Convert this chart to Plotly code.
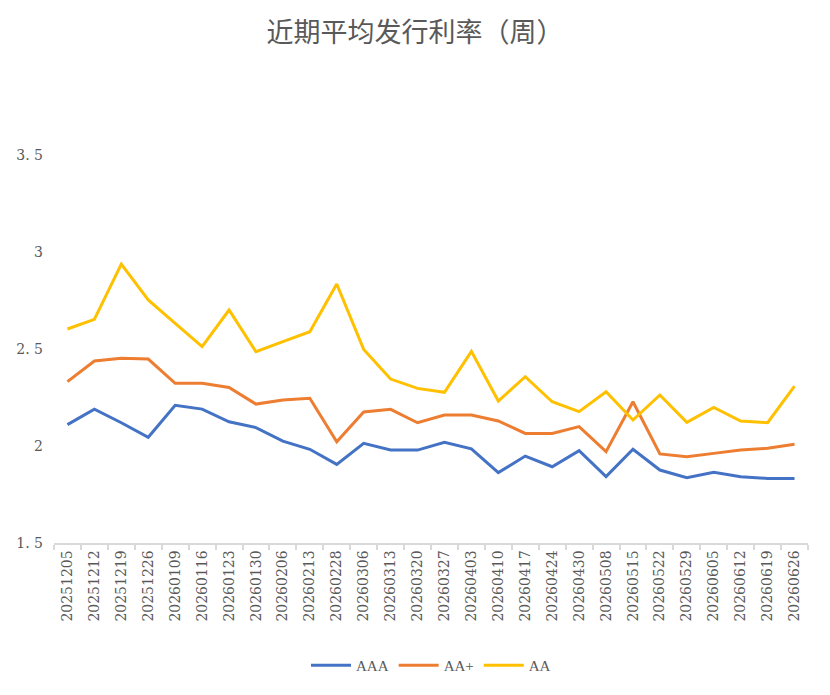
import plotly.graph_objects as go

dates = ["20251205", "20251212", "20251219", "20251226", "20260109", "20260116", "20260123",
         "20260130", "20260206", "20260213", "20260228", "20260306", "20260313", "20260320",
         "20260327", "20260403", "20260410", "20260417", "20260424", "20260430", "20260508",
         "20260515", "20260522", "20260529", "20260605", "20260612", "20260619", "20260626"]

aaa = [2.11, 2.19, 2.12, 2.045, 2.21, 2.19, 2.125, 2.095, 2.025, 1.983, 1.905, 2.014, 1.979, 1.979,
       2.019, 1.985, 1.863, 1.948, 1.893, 1.976, 1.842, 1.983, 1.876, 1.837, 1.864, 1.842, 1.833, 1.833]
aa_plus = [2.332, 2.438, 2.452, 2.448, 2.323, 2.323, 2.302, 2.216, 2.237, 2.246, 2.022, 2.175, 2.189, 2.12,
           2.16, 2.16, 2.129, 2.065, 2.065, 2.10, 1.971, 2.228, 1.959, 1.945, 1.962, 1.979, 1.988, 2.009]
aa = [2.603, 2.653, 2.938, 2.753, 2.632, 2.512, 2.701, 2.486, 2.538, 2.589, 2.835, 2.498, 2.345, 2.297,
      2.277, 2.488, 2.232, 2.357, 2.228, 2.177, 2.28, 2.134, 2.263, 2.122, 2.199, 2.129, 2.12, 2.309]

y_ticks = [1.5, 2, 2.5, 3, 3.5]
y_tick_text = ["1. 5", "2", "2. 5", "3", "3. 5"]

series = [("AAA", aaa, "#4472C4"), ("AA+", aa_plus, "#ED7D31"), ("AA", aa, "#FFC000")]

fig = go.Figure()
for name, vals, color in series:
    fig.add_trace(go.Scatter(x=dates, y=vals, name=name, mode="lines",
                             line=dict(color=color, width=3)))

serif = "DejaVu Serif, Liberation Serif, serif"
fig.update_layout(
    width=830, height=695,
    margin=dict(l=53.5, r=21.5, t=155, b=152),
    paper_bgcolor="white", plot_bgcolor="white",
    title=dict(text="近期平均发行利率（周）", x=0.5, xanchor="center", y=0.953, yanchor="middle",
               font=dict(family="Noto Sans CJK SC", size=27, color="#595959")),
    font=dict(family=serif, color="#595959", size=14),
    xaxis=dict(type="category", range=[-0.5, len(dates) - 0.5], tickangle=-90, showgrid=False,
               showline=True, automargin=False,
               linecolor="#D9D9D9", linewidth=1.5, ticks="outside", tickson="boundaries",
               ticklen=5, tickcolor="#D9D9D9", tickwidth=1.5,
               tickfont=dict(family=serif, size=14, color="#595959")),
    yaxis=dict(range=[1.5, 3.5], tickvals=y_ticks, ticktext=y_tick_text, showgrid=False,
               zeroline=False, showline=False, ticks="", ticklabelstandoff=10, automargin=False,
               tickfont=dict(family=serif, size=14, color="#595959")),
    legend=dict(orientation="h", x=0.5, xanchor="center", y=-0.316, yanchor="middle",
                font=dict(family="Liberation Serif, serif", size=15, color="#595959"),
                itemwidth=40, tracegroupgap=0),
    showlegend=True,
)

fig.write_html("out.html")
